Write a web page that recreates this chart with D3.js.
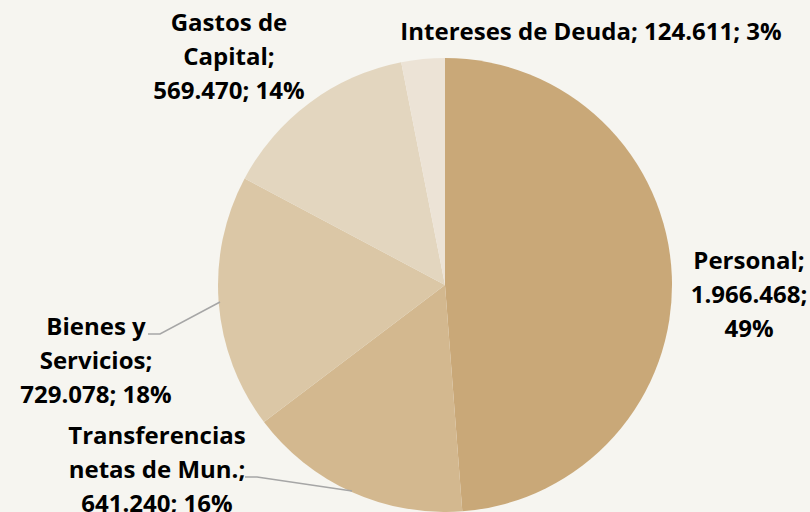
<!DOCTYPE html>
<html><head><meta charset="utf-8">
<script src="https://cdn.jsdelivr.net/npm/d3@7"></script>
<style>html,body{margin:0;padding:0;background:#f6f5f0;}</style>
</head><body>
<script>
const categories = ["Personal", "Transferencias netas de Mun.", "Bienes y Servicios", "Gastos de Capital", "Intereses de Deuda"];
const values = [1966468, 641240, 729078, 569470, 124611];
const colors = ["#c9a878", "#d3b88f", "#dbc7a6", "#e3d6bf", "#ece3d6"];
// label lines as shown (wrapped)
const labelLines = [
  ["Personal;", "1.966.468;", "49%"],
  ["Transferencias", "netas de Mun.;", "641.240; 16%"],
  ["Bienes y", "Servicios;", "729.078; 18%"],
  ["Gastos de", "Capital;", "569.470; 14%"],
  ["Intereses de Deuda; 124.611; 3%"]
];
const labelPos = [[749, 260], [157, 435], [96, 326], [229, 22], [591, 31]];

const W = 810, H = 512, cx = 445, cy = 285, R = 227;
const svg = d3.select("body").append("svg").attr("width", W).attr("height", H);
svg.append("rect").attr("width", W).attr("height", H).attr("fill", "#f6f5f0");

const pie = d3.pie().sort(null).value(d => d)(values);
const arc = d3.arc().innerRadius(0).outerRadius(R);
const g = svg.append("g").attr("transform", `translate(${cx},${cy})`);
g.selectAll("path").data(pie).join("path")
  .attr("d", arc).attr("fill", (d, i) => colors[i]);

// leader lines
const leaders = [
  null,
  [[245, 477], [257, 477], [352, 491]],
  [[148, 334], [160, 334], [220, 302]],
  null, null
];
leaders.forEach(l => {
  if (!l) return;
  svg.append("polyline").attr("points", l.map(p => p.join(",")).join(" "))
    .attr("fill", "none").attr("stroke", "#a6a6a6").attr("stroke-width", 1.5);
});

labelLines.forEach((lines, i) => {
  const t = svg.append("text").attr("text-anchor", "middle")
    .attr("font-family", "'Open Sans', Lato, sans-serif").attr("font-weight", "bold")
    .attr("font-size", 24).attr("fill", "#000");
  lines.forEach((ln, j) => {
    t.append("tspan").attr("x", labelPos[i][0]).attr("y", labelPos[i][1] + j * 34)
      .attr("dy", "0.36em").text(ln);
  });
});
</script>
</body></html>
